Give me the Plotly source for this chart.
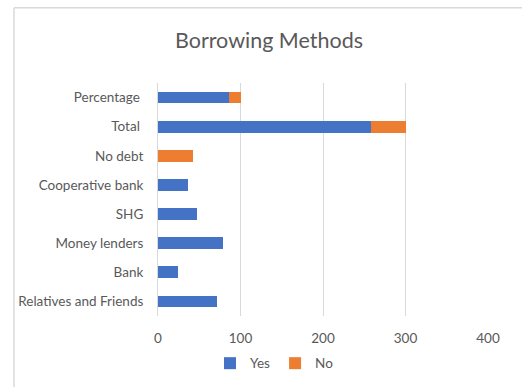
import plotly.graph_objects as go

categories = ["Relatives and Friends", "Bank", "Money lenders", "SHG",
              "Cooperative bank", "No debt", "Total\u00a0", "Percentage\u00a0"]
yes_values = [72, 24, 79, 47, 36, None, 258, 86]
no_values = [None, None, None, None, None, 42, 42, 14]
x_ticks = [0, 100, 200, 300, 400]

FONT = "Lato"
GRAY = "#595959"

W, H = 522, 387
L, R, T, B = 158, 34, 83, 70.5
pw = W - L - R
ph = H - T - B

def px_x(p):
    return (p - L) / pw

def px_y(p):
    return (H - B - p) / ph

fig = go.Figure()
fig.add_trace(go.Bar(y=categories, x=yes_values, name="Yes", orientation="h",
                     marker=dict(color="#4472C4", line=dict(width=0))))
fig.add_trace(go.Bar(y=categories, x=no_values, name="No", orientation="h",
                     marker=dict(color="#ED7D31", line=dict(width=0))))

fig.update_layout(
    width=W, height=H,
    barmode="stack", bargap=0.6,
    margin=dict(l=L, r=R, t=T, b=B, autoexpand=False),
    paper_bgcolor="white", plot_bgcolor="white",
    font=dict(family=FONT, size=13.5, color=GRAY),
    title=dict(text="Borrowing Methods", xref="container", x=269 / W,
               xanchor="center", y=1 - 40 / H, yanchor="middle",
               font=dict(family=FONT, size=21.5, color=GRAY)),
    xaxis=dict(range=[0, 400], tickvals=x_ticks, showgrid=True,
               gridcolor="#d9d9d9", gridwidth=1, zeroline=False,
               showline=False, ticks="", ticklabelstandoff=12,
               tickfont=dict(size=13.5, color=GRAY), fixedrange=True),
    yaxis=dict(showgrid=False, showline=True, linecolor="#d9d9d9",
               linewidth=1, ticks="", ticklabelstandoff=11,
               tickfont=dict(size=13.5, color=GRAY), fixedrange=True),
    legend=dict(orientation="h", x=px_x(274.5), xanchor="center",
                y=px_y(364), yanchor="middle", traceorder="normal",
                font=dict(size=13.5, color=GRAY), itemwidth=30),
    showlegend=True,
)

fig.add_shape(type="line", xref="paper", yref="paper",
              x0=px_x(14), x1=px_x(530), y0=px_y(7.5), y1=px_y(7.5),
              line=dict(color="#d9d9d9", width=1.5))
fig.add_shape(type="line", xref="paper", yref="paper",
              x0=px_x(14), x1=px_x(14), y0=px_y(7.5), y1=px_y(395),
              line=dict(color="#d9d9d9", width=1.5))

fig.write_html("out.html", config={"displayModeBar": False},
               post_script="document.body.style.margin='0';document.body.style.overflow='hidden';")
